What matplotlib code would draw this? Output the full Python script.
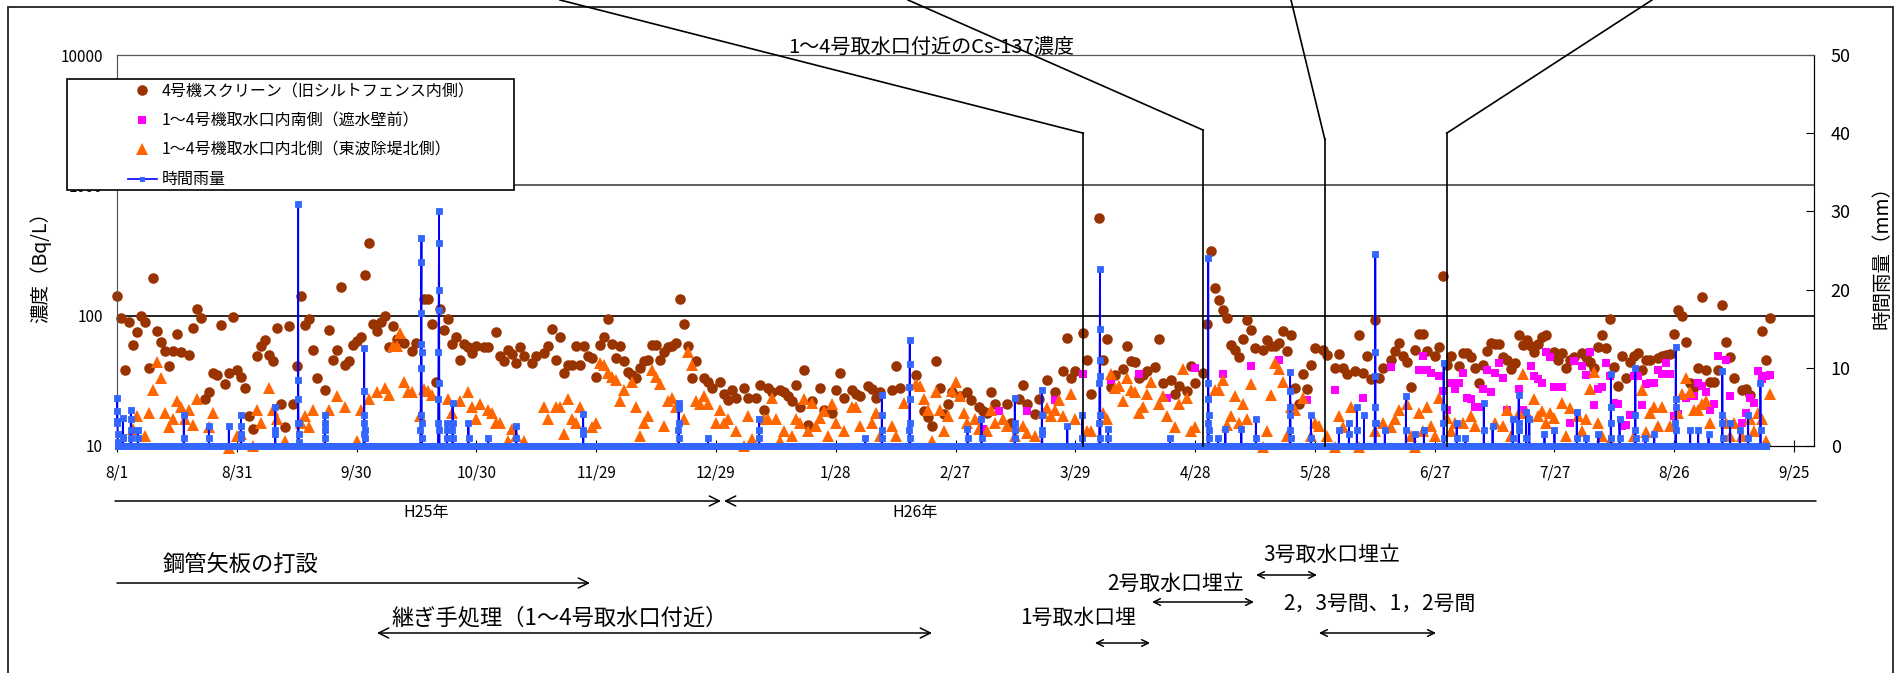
import matplotlib

matplotlib.use("Agg")
import matplotlib.pyplot as plt
import numpy as np
from matplotlib.lines import Line2D
from matplotlib.patches import FancyArrowPatch, Rectangle
from matplotlib.ticker import NullLocator

plt.rcParams["font.family"] = ["Noto Sans CJK JP", "DejaVu Sans"]

W, H = 1897, 673
C_SCREEN = "#993300"; C_SOUTH = "#FF00FF"; C_NORTH = "#FF6600"
C_RAIN = "#0000FF"; C_RAIN_PT = "#3366FF"

# x positions are days counted from 2013-08-01
tick_days = list(range(0, 421, 30))
tick_labels = ["8/1", "8/31", "9/30", "10/30", "11/29", "12/29", "1/28", "2/27",
               "3/29", "4/28", "5/28", "6/27", "7/27", "8/26", "9/25"]

# 4号機スクリーン (Bq/L)
screen = [
    (0, 142), (1, 96), (2, 38), (3, 90), (4, 60), (5, 75), (6, 100), (7, 90), (8, 40), (9, 195),
    (10, 76), (11, 63), (12, 54), (13, 41), (14, 54), (15, 72), (16, 53), (18, 50), (19, 80), (20, 112),
    (21, 96), (22, 23), (23, 26), (24, 36), (25, 35), (26, 85), (27, 30), (28, 36), (29, 97), (30, 38),
    (31, 34), (32, 28), (33, 17), (34, 13.4), (35, 49), (36, 59), (37, 65), (38, 50), (39, 45), (40, 80),
    (41, 21), (42, 14), (43, 83), (44, 21), (45, 41), (46, 142), (47, 85), (48, 94), (49, 55), (50, 33),
    (52, 27), (53, 78), (54, 46), (55, 55), (56, 165), (57, 42), (58, 45), (59, 60), (60, 64), (61, 68),
    (62, 206), (63, 360), (64, 87), (65, 76), (66, 89), (67, 99), (68, 57), (69, 83), (70, 66), (71, 66),
    (72, 62), (74, 54), (75, 62), (77, 134), (78, 134), (79, 86), (80, 31), (81, 112), (82, 77), (83, 95),
    (84, 61), (85, 69), (86, 46), (87, 61), (88, 57), (89, 52), (90, 58), (92, 57), (93, 57), (95, 75),
    (96, 49), (97, 45), (98, 55), (99, 51), (100, 43), (101, 57), (102, 49), (104, 43), (105, 49), (107, 52),
    (108, 59), (109, 79), (110, 46), (111, 68), (112, 36), (113, 42), (114, 42), (115, 58), (116, 42), (117, 59),
    (118, 49), (119, 47), (120, 34), (121, 60), (122, 68), (123, 95), (124, 61), (125, 47), (126, 59), (127, 45),
    (128, 37), (129, 35), (130, 33), (131, 40), (132, 45), (133, 46), (134, 60), (135, 60), (136, 46), (137, 53),
    (138, 57), (139, 59), (140, 62), (141, 134), (142, 86), (143, 58), (144, 33), (145, 45), (147, 33), (148, 31),
    (149, 28), (151, 31), (152, 25), (153, 22.5), (154, 27), (155, 23.5), (157, 28), (158, 23.5), (160, 23.5),
    (161, 29.5), (162, 19), (163, 28), (164, 26), (166, 27), (167, 26), (168, 24), (169, 22), (170, 29.5),
    (171, 20), (172, 38), (173, 14.5), (174, 22), (176, 28), (177, 19), (179, 18), (180, 27), (181, 36),
    (182, 23.5), (184, 27), (185, 25), (186, 24), (188, 29), (189, 27.5), (190, 23.5), (191, 26), (194, 27),
    (195, 41), (196, 28), (200, 35), (202, 18.6), (203, 16.6), (204, 14.3), (205, 44.5), (206, 28), (207, 17.5),
    (208, 21), (209, 26), (211, 24), (213, 26), (214, 22.5), (216, 20), (217, 18.5), (218, 18), (219, 26),
    (220, 21), (223, 21), (224, 15), (226, 23), (227, 29.5), (228, 21), (230, 17.5), (231, 23), (233, 32),
    (235, 26), (237, 37.5), (238, 67), (239, 33), (240, 37.5), (242, 73), (243, 46), (244, 25), (246, 562),
    (247, 46), (248, 66), (249, 28.5), (250, 35), (252, 39), (253, 59), (254, 45), (255, 44), (256, 33),
    (257, 35), (258, 37.5), (260, 40.5), (261, 66), (262, 30.6), (264, 32), (265, 25), (266, 28.8), (268, 26.5),
    (269, 41), (270, 30.6), (272, 36.5), (273, 86), (274, 313), (275, 163), (276, 131), (277, 111), (278, 96),
    (279, 60), (280, 55), (281, 48), (282, 66), (283, 92), (284, 78), (285, 56), (287, 55), (288, 65), (289, 59),
    (290, 59), (291, 62), (292, 76), (293, 54), (294, 71), (295, 28), (296, 21), (297, 35.5), (298, 27.5),
    (299, 41.5), (300, 56), (302, 55), (303, 49.5), (305, 40), (306, 51), (307, 40), (308, 35.5), (310, 37.5),
    (311, 71), (312, 36), (313, 49), (314, 32.5), (315, 93), (316, 33), (317, 40), (319, 46), (320, 54),
    (321, 62), (322, 49), (323, 44), (324, 28.5), (325, 55), (326, 72), (327, 72), (328, 54), (330, 49),
    (331, 57), (332, 202), (333, 41.5), (334, 49), (336, 41), (337, 52), (338, 52), (339, 48), (340, 40),
    (341, 30.6), (342, 42), (343, 54), (344, 62), (345, 61), (346, 61), (347, 48), (348, 46), (349, 39),
    (350, 43.5), (351, 71), (352, 60), (353, 65), (354, 58), (355, 53), (356, 61), (357, 69), (358, 71),
    (360, 53), (361, 46), (362, 52), (363, 40), (364, 46), (365, 48), (367, 52), (368, 48), (369, 44),
    (370, 40), (371, 57), (372, 71), (373, 56), (374, 95), (375, 40.5), (376, 29), (377, 49), (378, 33),
    (379, 44), (380, 49), (381, 52), (382, 38), (383, 46), (384, 46), (386, 47), (387, 49), (388, 50),
    (389, 51), (390, 72), (391, 110), (392, 100), (393, 63), (394, 30.6), (395, 28.5), (396, 40), (397, 140),
    (398, 38), (399, 31), (400, 31), (401, 38), (402, 121), (403, 63), (404, 48), (405, 33), (407, 27),
    (408, 27.5), (409, 24.5), (412, 76), (413, 46), (414, 96),
]

# 1～4号機取水口内南側 (Bq/L)
south = [
    (217, 13.5), (221, 18.4), (228, 18.4), (235, 22.5), (242, 35.5), (249, 32), (256, 35.5), (263, 23.5),
    (270, 40), (277, 35.5), (284, 41), (291, 46), (298, 22.5), (305, 27), (312, 23.5), (319, 40.5),
    (326, 38), (327, 49), (328, 38), (329, 36), (331, 34.5), (332, 26.5), (333, 19), (334, 30.6),
    (335, 27.5), (336, 30.6), (337, 36), (338, 23.5), (339, 23), (340, 20), (341, 20), (342, 27.5),
    (343, 38), (344, 26), (345, 36), (346, 43), (347, 33.5), (348, 19), (351, 27.5), (352, 19), (354, 41),
    (355, 34.5), (356, 32.5), (357, 30.6), (358, 53), (359, 48), (360, 28.5), (361, 28.5), (362, 28.5),
    (364, 15), (365, 45), (367, 41), (368, 35), (369, 53), (370, 20.5), (371, 27.5), (372, 28.5),
    (373, 43.5), (374, 34.5), (375, 21.5), (376, 21), (377, 14.3), (378, 14.5), (379, 17.3), (380, 34.5),
    (381, 34.5), (382, 20.5), (383, 30), (384, 30.6), (385, 30.6), (386, 38), (387, 35.5), (388, 43),
    (389, 35.5), (390, 17), (391, 17.5), (393, 23.5), (395, 24), (396, 30.6), (397, 29), (398, 26),
    (399, 19), (400, 21), (401, 49), (403, 46), (404, 24), (407, 15), (408, 18), (409, 23.5), (410, 21.5),
    (411, 37.5), (412, 32.5), (413, 34.5), (414, 35),
]

# 1～4号機取水口内北側 (Bq/L)
north = [
    (4, 13.4), (5, 17), (7, 12), (8, 18), (9, 27), (10, 44), (11, 33), (12, 18), (13, 14), (14, 16),
    (15, 22), (16, 20), (17, 16), (18, 19), (19, 14.6), (20, 23), (23, 14), (24, 18), (28, 9.6), (30, 12),
    (31, 12.3), (34, 10), (35, 19), (36, 15), (38, 28), (39, 19), (40, 16), (42, 11), (46, 15), (47, 17),
    (48, 14), (49, 19), (53, 19), (55, 24), (57, 20), (60, 11), (61, 19), (63, 23), (65, 26), (67, 28),
    (68, 24.5), (69, 59), (70, 59), (71, 73), (72, 31), (73, 26), (74, 26), (76, 17), (77, 27.5), (78, 26.6),
    (79, 24.5), (83, 23), (84, 18), (86, 22), (88, 26), (89, 20), (90, 16), (91, 21), (93, 19), (94, 18),
    (95, 15), (96, 15), (98, 11), (99, 13.6), (100, 12), (102, 11), (107, 20), (108, 16), (110, 20),
    (111, 20), (112, 12.3), (113, 23), (114, 16), (115, 15), (116, 20), (119, 14), (120, 15), (121, 43),
    (122, 42), (123, 36), (124, 34), (125, 32), (126, 22), (127, 27), (129, 31), (130, 20), (131, 12),
    (132, 15), (133, 17), (134, 38), (135, 34), (136, 30), (137, 14.3), (138, 22), (139, 23.5), (140, 20),
    (142, 16), (143, 53), (144, 41.5), (145, 22), (146, 21), (147, 24), (148, 21), (150, 15), (151, 19),
    (152, 15), (153, 16), (155, 13), (157, 10), (158, 17), (159, 11.4), (162, 16), (163, 16), (164, 23.5),
    (165, 16), (166, 11), (167, 13), (169, 12), (170, 16), (171, 15), (172, 23), (173, 13), (174, 21.5),
    (175, 14.3), (176, 16.5), (177, 18.6), (178, 12), (179, 21), (180, 15), (182, 13), (184, 20), (185, 20),
    (186, 14.3), (189, 15), (190, 18), (191, 12), (194, 14.3), (195, 12), (197, 21.5), (200, 30), (201, 29),
    (202, 23), (203, 19), (204, 11), (205, 26), (206, 19), (207, 13), (208, 17), (209, 26.5), (210, 31),
    (211, 24), (212, 18), (213, 15), (215, 16), (216, 13.5), (218, 13), (219, 19), (220, 15), (222, 16),
    (223, 14.3), (225, 12), (227, 14.3), (228, 12.6), (230, 12), (232, 18), (233, 19.7), (234, 17),
    (235, 19), (236, 22.5), (237, 17), (239, 25), (240, 16), (243, 13), (244, 13), (247, 18), (248, 16),
    (249, 35.5), (250, 28), (251, 29), (252, 22), (253, 33), (254, 27), (255, 26), (256, 18), (257, 20),
    (258, 25), (259, 31), (261, 21), (262, 24), (263, 17), (265, 14), (266, 21), (267, 39), (268, 23.5),
    (269, 13), (270, 14), (275, 27), (276, 27), (277, 32), (278, 14.5), (279, 17), (280, 24), (281, 15),
    (282, 21), (283, 16), (284, 30), (287, 9.8), (288, 13), (289, 24.6), (290, 43.5), (291, 39), (292, 31),
    (293, 12), (294, 20), (295, 19), (297, 23.5), (299, 12), (300, 15), (301, 14.3), (303, 12), (305, 9.8),
    (306, 17), (307, 14), (309, 20), (311, 9.8), (315, 13), (317, 15), (319, 14), (320, 16), (321, 19),
    (323, 21), (324, 12), (325, 9.8), (326, 18), (327, 13), (328, 20), (329, 14.3), (330, 12), (331, 23.5),
    (333, 16.5), (334, 13), (335, 15), (337, 15), (339, 17), (340, 14.3), (345, 15), (347, 14.3), (348, 19),
    (349, 12), (351, 18), (352, 35.5), (353, 18), (355, 23), (356, 17), (357, 18.6), (358, 15), (359, 18),
    (360, 16.5), (362, 21.5), (363, 12), (364, 19.7), (366, 17), (367, 13), (368, 16), (369, 27.5), (370, 37),
    (371, 15), (372, 12), (374, 11), (380, 12), (382, 27), (383, 12.8), (384, 18), (385, 20), (386, 14.3),
    (387, 20), (389, 14.3), (391, 18), (392, 25), (393, 33), (394, 26), (395, 19), (396, 19), (397, 21),
    (398, 22), (399, 15), (403, 15), (404, 12), (405, 15), (407, 12), (409, 16), (410, 13), (411, 18),
    (412, 16), (413, 11), (414, 25),
]

# 時間雨量: rain spells as (start day, hourly mm); every other hour is 0 mm
rain_events = [
    (0.0, [3.0, 6.1, 4.5, 3.2, 1.5, 0.5]), (1.4, [1.0, 3.6, 1.2]), (3.4, [2.0, 4.6, 3.5, 1.0]),
    (5.2, [1.0, 2.0]), (16.7, [4.0, 1.0]), (23.0, [2.6, 1.0]), (28.0, [2.6]), (31.0, [1.5, 4.0, 2.5, 1.0]),
    (39.6, [1.5, 5.0, 2.0]), (45.3, [3.0, 8.4, 31.0, 6.0, 3.0, 1.5, 0.5]), (52.0, [2.0, 4.0, 3.0, 1.0]),
    (61.8, [1.5, 3.0, 7.0, 12.5, 4.0, 2.0, 1.0]),
    (76.0, [2.0, 4.0, 10.0, 13.0, 17.0, 23.5, 26.6, 12.0, 3.0, 1.0]),
    (80.4, [3.0, 6.0, 12.0, 17.4, 20.0, 26.0, 30.0, 8.0, 2.0]), (82.6, [1.0, 3.0, 2.0]),
    (84.0, [2.0, 5.5, 3.0, 1.0]), (88.0, [3.0, 1.0]), (93.0, [1.0]), (100.0, [2.6, 1.0]),
    (116.7, [2.0, 4.1, 1.5]), (140.6, [2.0, 5.5, 4.9, 3.0, 1.0]), (148.0, [1.0]), (160.8, [2.0, 3.5, 1.0]),
    (187.4, [1.0]), (191.5, [2.0, 6.5, 4.0, 1.0]), (198.4, [2.0, 7.6, 10.5, 13.5, 6.0, 3.0, 1.0]),
    (213.0, [2.2, 1.0]), (216.5, [3.5, 1.0]), (224.8, [2.0, 6.1, 3.0, 1.0]), (231.6, [2.0, 7.2, 4.0, 1.5]),
    (238.0, [2.6]), (241.7, [4.0, 1.0]), (246.0, [3.0, 8.0, 11.0, 15.0, 22.6, 9.0, 4.0, 1.0]),
    (248.2, [2.2, 1.0]), (263.7, [1.0]), (273.2, [3.0, 6.0, 24.0, 8.0, 4.0, 2.0, 1.0]), (275.8, [1.0]),
    (277.6, [2.2]), (281.6, [2.2]), (285.2, [3.5, 1.0]), (293.7, [2.0, 5.0, 9.5, 7.0, 4.0, 1.0]),
    (299.0, [4.0, 1.0]), (306.0, [2.0]), (308.5, [1.5, 3.0]), (310.5, [5.0, 2.0]), (312.3, [4.0]),
    (315.0, [3.0, 9.0, 5.0, 24.5, 12.0, 3.0]), (317.5, [2.0]), (322.8, [6.4, 2.0]), (325.0, [1.5]),
    (327.3, [2.0]), (332.2, [3.0, 10.6, 5.0, 1.0]), (335.5, [3.0, 1.0]), (337.7, [1.0]), (342.3, [5.5, 2.0]),
    (344.5, [2.5]), (349.5, [3.5, 1.0]), (351.0, [3.0, 6.5, 2.0]), (352.9, [4.4, 1.0]), (353.7, [3.5]),
    (357.5, [1.5]), (360.0, [2.0]), (365.6, [4.4, 1.0]), (368.0, [1.0]), (371.0, [1.5]),
    (374.1, [3.0, 9.2, 5.0, 1.0]), (376.3, [3.5, 1.0]), (380.2, [2.0, 10.0, 4.0, 1.0]), (382.8, [1.0]),
    (385.0, [1.5]), (390.3, [3.0, 6.0, 12.6, 5.0, 2.0]), (394.0, [2.0]), (396.0, [2.0]), (398.6, [1.5]),
    (402.0, [3.0, 9.6, 4.0, 1.0]), (404.0, [3.0]), (406.4, [2.0]), (408.5, [4.0, 1.0]), (411.6, [8.0, 2.0]),
]
rain_last_day = 413

# dates marked by the leader lines, and the rainfall height where each one bends
callout_days = [242, 272, 302.5, 333]
callout_tops = [40, 40.4, 39.2, 40]


def fx(x):
    return x / W


def fy(y):
    return 1 - y / H


def span(x0, x1, y, style, scale):
    fig.add_artist(FancyArrowPatch((fx(x0), fy(y)), (fx(x1), fy(y)), transform=fig.transFigure,
                                   arrowstyle=f"{style},head_length=0.6,head_width=0.3",
                                   mutation_scale=scale, lw=1.1, color="k", shrinkA=0, shrinkB=0))


fig = plt.figure(figsize=(W / 100, H / 100), dpi=100)
ax = fig.add_axes([fx(117), fy(446), (1814 - 117) / W, (446 - 55) / H])
ax2 = ax.twinx()

ax.set_yscale("log")
ax.set_ylim(10, 10000); ax.set_xlim(0, 425)
ax2.set_ylim(0, 50)

ax.axhline(1000, color="#444444", lw=1.2, zorder=1)
ax.axhline(100, color="k", lw=1.2, zorder=1)

for pts, mk, col, ms in [(screen, "o", C_SCREEN, 7.6), (south, "s", C_SOUTH, 6), (north, "^", C_NORTH, 8.4)]:
    d, v = zip(*pts)
    ax.plot(d, v, ls="none", marker=mk, ms=ms, color=col, mew=0, clip_on=False, zorder=3)

hours = np.arange(rain_last_day * 24 + 1)
rain = np.zeros(hours.size)
for day, vals in rain_events:
    i = int(round(day * 24))
    rain[i:i + len(vals)] = vals
# drawn above the spines so the zero-rain markers sit over the axis line
ax2.plot(hours / 24, rain, color=C_RAIN, lw=1.3, marker="s", ms=3.8, mfc=C_RAIN_PT, mec=C_RAIN_PT,
         mew=0.6, clip_on=False, zorder=3)

# ticks and labels
ax.set_xticks(tick_days); ax.set_xticklabels(tick_labels, fontsize=11)
ax.tick_params(axis="x", direction="inout", length=8, pad=9)
ax.set_yticks([10, 100, 1000, 10000]); ax.set_yticklabels(["10", "100", "1000", "10000"])
ax.yaxis.set_minor_locator(NullLocator())
ax.tick_params(axis="y", direction="in", length=0, labelsize=11, pad=10)
ax2.set_yticks(range(0, 51, 10))
ax2.tick_params(axis="y", direction="in", length=6, labelsize=13, pad=12)
ax.set_ylabel("濃度（Bq/L）", fontsize=14); ax.yaxis.set_label_coords(-0.0385, 0.47)
ax2.set_ylabel("時間雨量（mm）", fontsize=14); ax2.yaxis.set_label_coords(1.034, 0.494)
for a in (ax, ax2):
    a.spines["left"].set_color("#555555"); a.spines["top"].set_color("#555555")
    a.spines["right"].set_color("k"); a.spines["bottom"].set_color("k")

fig.text(fx(931), fy(47), "1～4号取水口付近のCs-137濃度", ha="center", va="center", fontsize=14.5)

# leader lines from the top edge down to the marked dates
leader_ends = [560, 908, 1291, 1652]
for d, top, xe in zip(callout_days, callout_tops, leader_ends):
    ax2.plot([d, d], [0, top], color="k", lw=1.2, zorder=6, clip_on=False)
    xt, yt = fig.transFigure.inverted().transform(ax2.transData.transform((d, top)))
    fig.add_artist(Line2D([xt, fx(xe)], [yt, 1.0], color="k", lw=1.2, transform=fig.transFigure))

# outer frame
fig.add_artist(Rectangle((fx(8), -0.01), fx(1893) - fx(8), fy(7) + 0.01, transform=fig.transFigure,
                         fill=False, edgecolor="#222222", lw=1.3))

# legend box
fig.add_artist(Rectangle((fx(67), fy(190)), fx(514) - fx(67), fy(79) - fy(190), transform=fig.transFigure,
                         facecolor="white", edgecolor="k", lw=1.2, zorder=4))
handles = [
    Line2D([], [], ls="none", marker="o", ms=7.6, color=C_SCREEN, mew=0),
    Line2D([], [], ls="none", marker="s", ms=6, color=C_SOUTH, mew=0),
    Line2D([], [], ls="none", marker="^", ms=8.4, color=C_NORTH, mew=0),
    Line2D([], [], color=C_RAIN, lw=1.2, marker="s", ms=3.6, mfc=C_RAIN_PT, mec=C_RAIN_PT, mew=0),
]
labels = ["4号機スクリーン（旧シルトフェンス内側）", "1～4号機取水口内南側（遮水壁前）",
          "1～4号機取水口内北側（東波除堤北側）", "時間雨量"]
fig.legend(handles, labels, loc="upper left", bbox_to_anchor=(fx(128), fy(83)), frameon=False,
           fontsize=11.5, handlelength=1.8, handletextpad=0.3, labelspacing=0.78, borderpad=0,
           borderaxespad=0)

# fiscal-year spans
span(115, 721, 501, "->", 12)
span(1816, 724, 501, "->", 12)
fig.text(fx(426), fy(513), "H25年", ha="center", va="center", fontsize=11.5)
fig.text(fx(915), fy(513), "H26年", ha="center", va="center", fontsize=11.5)

# construction periods
span(117, 590, 583, "->", 12)
fig.text(fx(163), fy(565), "鋼管矢板の打設", ha="left", va="center", fontsize=16)
span(377, 932, 633, "<->", 12)
fig.text(fx(560), fy(618), "継ぎ手処理（1～4号取水口付近）", ha="center", va="center", fontsize=16)
span(1095, 1150, 643, "<->", 8)
fig.text(fx(1078), fy(618), "1号取水口埋", ha="center", va="center", fontsize=15)
span(1152, 1254, 602, "<->", 8)
fig.text(fx(1176), fy(584), "2号取水口埋立", ha="center", va="center", fontsize=15)
span(1256, 1317, 575, "<->", 8)
fig.text(fx(1332), fy(555), "3号取水口埋立", ha="center", va="center", fontsize=15)
span(1319, 1436, 633, "<->", 8)
fig.text(fx(1379), fy(604), "2，3号間、1，2号間", ha="center", va="center", fontsize=15)

fig.savefig("out.png", dpi=100)
